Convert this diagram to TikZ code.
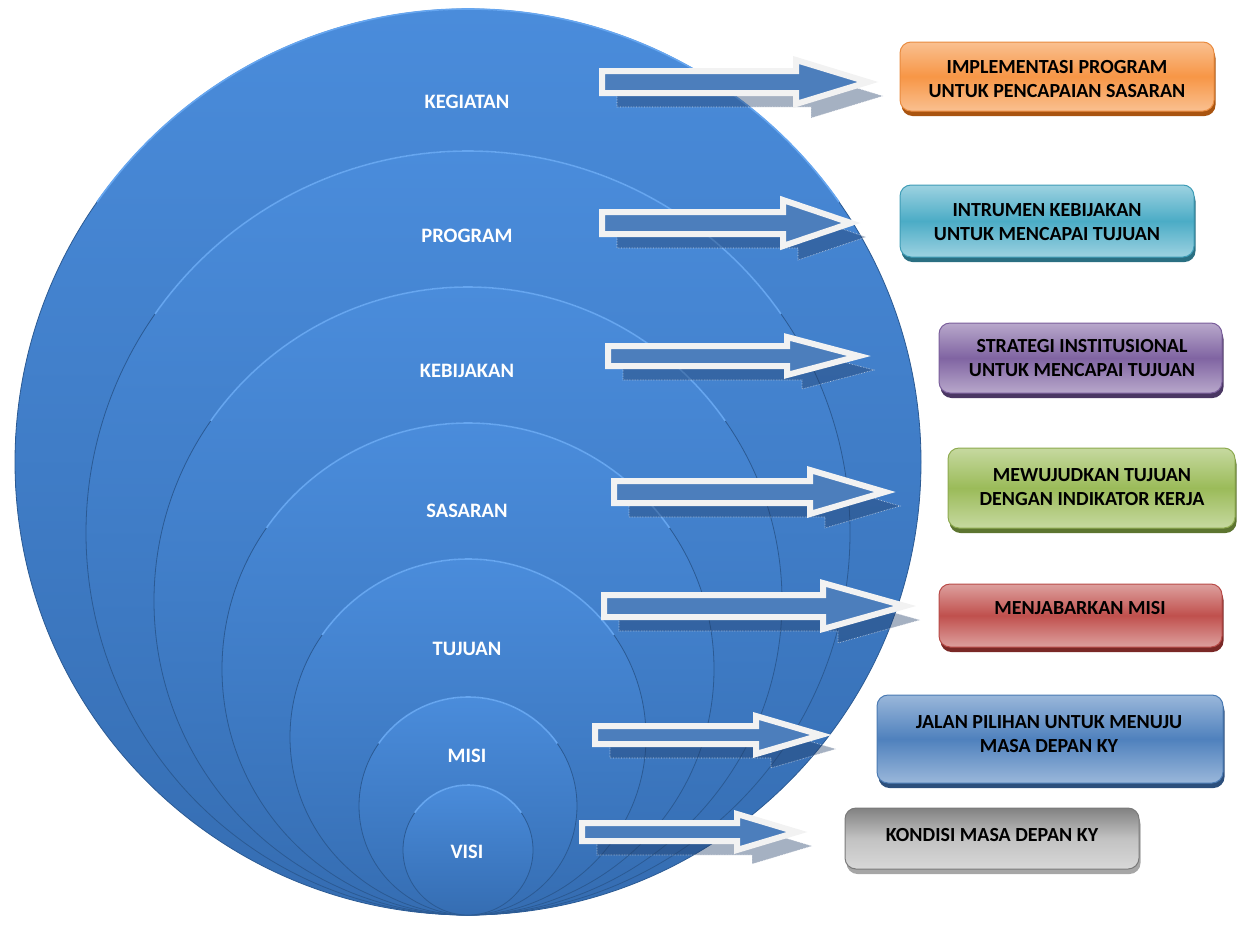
\documentclass[tikz,border=0pt]{standalone}
\usepackage{fontspec}
\setmainfont{Carlito}
\usetikzlibrary{shadows}

\definecolor{ringtop}{HTML}{4A8CDB}
\definecolor{ringbot}{HTML}{356DB2}
\definecolor{ringline}{HTML}{2B5A93}
\definecolor{ringhi}{HTML}{66A6F0}
\definecolor{arrowfill}{HTML}{4C7EBC}
\definecolor{arrowdark}{HTML}{1F3B66}
% box colours: light / mid / line / dark
\definecolor{orglight}{HTML}{FAC090}
\definecolor{orgmid}{HTML}{F79646}
\definecolor{orgline}{HTML}{E98B3F}
\definecolor{orgdark}{HTML}{A95410}
\definecolor{tealight}{HTML}{9DD2E1}
\definecolor{teamid}{HTML}{4BACC6}
\definecolor{tealine}{HTML}{3E9CB6}
\definecolor{teadark}{HTML}{2A6F82}
\definecolor{purlight}{HTML}{B8A8CB}
\definecolor{purmid}{HTML}{8064A2}
\definecolor{purline}{HTML}{7A5E9B}
\definecolor{purdark}{HTML}{4A3763}
\definecolor{grnlight}{HTML}{C6D9A0}
\definecolor{grnmid}{HTML}{9BBB59}
\definecolor{grnline}{HTML}{8DAA4F}
\definecolor{grndark}{HTML}{5D7530}
\definecolor{redlight}{HTML}{DDA09E}
\definecolor{redmid}{HTML}{C0504D}
\definecolor{redline}{HTML}{B84A47}
\definecolor{reddark}{HTML}{7A2826}
\definecolor{blulight}{HTML}{9AB7DA}
\definecolor{blumid}{HTML}{4F81BD}
\definecolor{bluline}{HTML}{4A7AB3}
\definecolor{bludark}{HTML}{2C4F7C}
\definecolor{grytop}{HTML}{828282}
\definecolor{grymid}{HTML}{C2C2C2}
\definecolor{grybot}{HTML}{D8D8D8}
\definecolor{gryline}{HTML}{7A7A7A}
\definecolor{grydark}{HTML}{A6A6A6}

\begin{document}
\begin{tikzpicture}[x=1pt, y=-1pt,
            ring/.style={top color=ringtop, bottom color=ringbot,
                draw=ringline, line width=0.8pt},
            lbl/.style={text=white, font=\fontsize{20.5}{24}\selectfont\bfseries},
            blockarrow/.style={fill=arrowfill, draw=white!95!black,
                line width=6pt},
            arrowshade/.style={fill=arrowdark, fill opacity=0.4,
                draw=white, draw opacity=0.7, densely dotted, line width=0.6pt},
            boxbase/.style={rounded corners=11pt, line width=1pt, draw=#1line,
                drop shadow={shadow xshift=1.5pt, shadow yshift=-5pt,
                    fill=#1dark, opacity=1}},
            box/.style={boxbase=#1, top color=#1light, bottom color=#1light,
                middle color=#1mid},
            boxtext/.style={align=center,
                font=\fontsize{20}{24}\selectfont\bfseries}]
            \useasboundingbox (0,0) rectangle (1237,924);

            % nested circles, all touching at the bottom
            \foreach \r in {453, 382, 314, 246, 178, 109, 65} {
                    \draw[ring] (468,915-\r) circle[radius=\r pt];
                    \draw[ringhi, line width=1.6pt] (468,915-\r) ++(145:\r pt)
                        arc[start angle=145, end angle=35, radius=\r pt];
                }

            \foreach \i/\y/\t in {1/102/KEGIATAN, 2/236/PROGRAM, 3/371/KEBIJAKAN,
                    4/511/SASARAN, 5/649/TUJUAN, 6/756/MISI, 7/852/VISI} {
                    \node[lbl] (l\i) at (467,\y) {\t};
                }

            % block arrows: start x / y / head x / tip x / shaft / head
            \foreach \x/\y/\h/\t/\s/\w in {602/82/796/868/11/22, 602/223/783/851/11/23,
                    608/356/787/859/10/19, 614/492/810/885/11/22, 604/606/823/905/11/23,
                    595/735/756/821/9/19, 582/832/737/797/9/18} {
                    \draw[arrowshade, shift={(15,14)}] (\x,\y-\s) -- (\h,\y-\s) -- (\h,\y-\w)
                        -- (\t,\y) -- (\h,\y+\w) -- (\h,\y+\s) -- (\x,\y+\s) -- cycle;
                    \draw[blockarrow] (\x,\y-\s) -- (\h,\y-\s) -- (\h,\y-\w)
                        -- (\t,\y) -- (\h,\y+\w) -- (\h,\y+\s) -- (\x,\y+\s) -- cycle;
                }

            % boxes
            \node[box=org, minimum width=314pt, minimum height=69pt] (b1) at (1057,76.5) {};
            \node[box=tea, minimum width=294pt, minimum height=72pt] (b2) at (1047,221) {};
            \node[box=pur, minimum width=283pt, minimum height=70pt] (b3) at (1080.5,358) {};
            \node[box=grn, minimum width=287pt, minimum height=80pt] (b4) at (1091.5,488) {};
            \node[box=red, minimum width=283pt, minimum height=63pt] (b5) at (1080.5,615.5) {};
            \node[box=blu, minimum width=346pt, minimum height=88pt] (b6) at (1050,739) {};
            \node[boxbase=gry, top color=grytop, bottom color=grybot, middle color=grymid,
                minimum width=294pt, minimum height=61pt] (b7) at (992,838.5) {};

            \node[boxtext] (t1) at (1057,79) {IMPLEMENTASI PROGRAM\\UNTUK PENCAPAIAN SASARAN};
            \node[boxtext] (t2) at (1047,222) {INTRUMEN KEBIJAKAN\\UNTUK MENCAPAI TUJUAN};
            \node[boxtext] (t3) at (1082,358) {STRATEGI INSTITUSIONAL\\UNTUK MENCAPAI TUJUAN};
            \node[boxtext] (t4) at (1092,487) {MEWUJUDKAN TUJUAN\\DENGAN INDIKATOR KERJA};
            \node[boxtext] (t5) at (1080,608) {MENJABARKAN MISI};
            \node[boxtext] (t6) at (1049,734) {JALAN PILIHAN UNTUK MENUJU\\MASA DEPAN KY};
            \node[boxtext] (t7) at (992,835) {KONDISI MASA DEPAN KY};
        \end{tikzpicture}
\end{document}
